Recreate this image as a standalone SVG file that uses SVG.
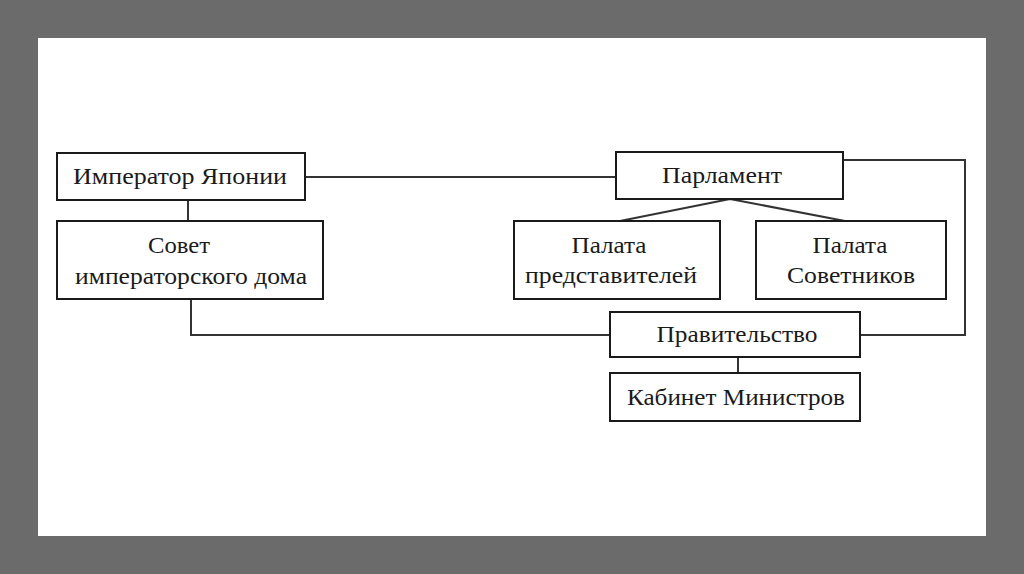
<svg xmlns="http://www.w3.org/2000/svg" width="1024" height="574" viewBox="0 0 1024 574">
<style>
.box{fill:#fff;stroke:#1a1a1a;stroke-width:2}
.t{font-family:"Liberation Serif","Times New Roman",serif;font-size:23px;fill:#1a1a1a;text-anchor:middle}
.c{fill:none;stroke:#333;stroke-width:2}
</style>
<rect x="0" y="0" width="1024" height="574" fill="#6b6b6b"/>
<rect x="38" y="38" width="948" height="498" fill="#fff"/>
<g id="connectors">
<path class="c" d="M305 177H616"/>
<path class="c" d="M188 200V221"/>
<path class="c" d="M191 299V335H610"/>
<path class="c" d="M730 199L620 221M730 199L845 221"/>
<path class="c" d="M843 160H965V335H860"/>
<path class="c" d="M738 357V373"/>
</g>
<g id="emperor"><rect class="box" x="57" y="153" width="248" height="47"/><text class="t" x="180" y="184" textLength="214" lengthAdjust="spacingAndGlyphs">Император Японии</text></g>
<g id="council"><rect class="box" x="57" y="221" width="266" height="78"/><text class="t" x="179" y="253" textLength="62" lengthAdjust="spacingAndGlyphs">Совет</text><text class="t" x="191" y="284" textLength="232" lengthAdjust="spacingAndGlyphs">императорского дома</text></g>
<g id="parliament"><rect class="box" x="616" y="152" width="227" height="47"/><text class="t" x="722" y="183" textLength="120" lengthAdjust="spacingAndGlyphs">Парламент</text></g>
<g id="representatives"><rect class="box" x="514" y="221" width="206" height="78"/><text class="t" x="609" y="253" textLength="75" lengthAdjust="spacingAndGlyphs">Палата</text><text class="t" x="611" y="283" textLength="172" lengthAdjust="spacingAndGlyphs">представителей</text></g>
<g id="councillors"><rect class="box" x="756" y="221" width="190" height="78"/><text class="t" x="850" y="253" textLength="75" lengthAdjust="spacingAndGlyphs">Палата</text><text class="t" x="851" y="283" textLength="128" lengthAdjust="spacingAndGlyphs">Советников</text></g>
<g id="government"><rect class="box" x="610" y="312" width="250" height="45"/><text class="t" x="737" y="342" textLength="161" lengthAdjust="spacingAndGlyphs">Правительство</text></g>
<g id="cabinet"><rect class="box" x="610" y="373" width="250" height="48"/><text class="t" x="736" y="405" textLength="218" lengthAdjust="spacingAndGlyphs">Кабинет Министров</text></g>
</svg>
